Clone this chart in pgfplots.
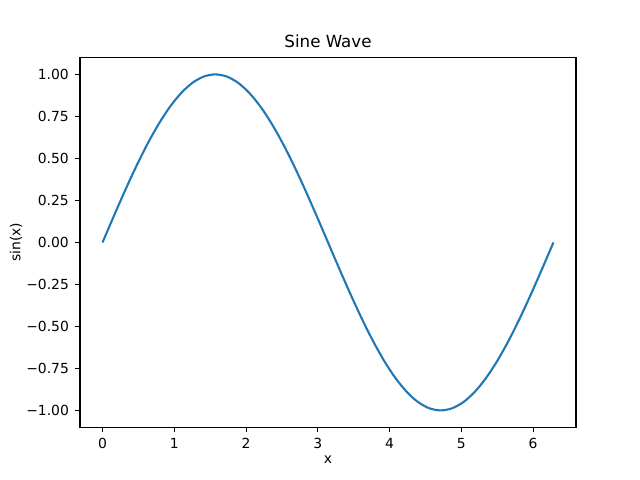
\documentclass[border=0pt]{standalone}
\usepackage{fontspec}
\setmainfont{DejaVu Sans}
\usepackage{pgfplots}
\pgfplotsset{compat=1.18}
\definecolor{tabblue}{HTML}{1F77B4}
\begin{document}
\begin{tikzpicture}
\begin{axis}[
  name=ax,
  scale only axis,
  width=357.12pt, height=266.11pt,
  xmin=-0.31416, xmax=6.59734,
  ymin=-1.1, ymax=1.1,
  axis line style={line width=0.8pt},
  tick style={line width=0.8pt, black},
  major tick length=3.5pt,
  tick align=outside,
  xtick pos=bottom, ytick pos=left,
  xtick={0,1,2,3,4,5,6},
  ytick={-1,-0.75,-0.5,-0.25,0,0.25,0.5,0.75,1},
  yticklabels={−1.00,−0.75,−0.50,−0.25,0.00,0.25,0.50,0.75,1.00},
  /pgf/number format/assume math mode=true,
  ticklabel style={font=\fontsize{10}{12}\selectfont},
  xticklabel style={yshift=-1pt},
  yticklabel style={xshift=-1pt},
  xlabel={x}, ylabel={sin(x)},
  label style={font=\fontsize{10}{12}\selectfont},
  xlabel style={yshift=2pt},
  ylabel style={yshift=-4pt},
  title={Sine Wave},
  title style={font=\fontsize{12}{14}\selectfont, yshift=-2.5pt},
]
\addplot[color=tabblue, line width=1.5pt, line join=round, smooth, tension=0.5] coordinates {
(0,0) (0.1571,0.1564) (0.3142,0.3090) (0.4712,0.4540) (0.6283,0.5878)
(0.7854,0.7071) (0.9425,0.8090) (1.0996,0.8910) (1.2566,0.9511) (1.4137,0.9877)
(1.5708,1) (1.7279,0.9877) (1.8850,0.9511) (2.0420,0.8910) (2.1991,0.8090)
(2.3562,0.7071) (2.5133,0.5878) (2.6704,0.4540) (2.8274,0.3090) (2.9845,0.1564)
(3.1416,0) (3.2987,-0.1564) (3.4558,-0.3090) (3.6128,-0.4540) (3.7699,-0.5878)
(3.9270,-0.7071) (4.0841,-0.8090) (4.2412,-0.8910) (4.3982,-0.9511) (4.5553,-0.9877)
(4.7124,-1) (4.8695,-0.9877) (5.0265,-0.9511) (5.1836,-0.8910) (5.3407,-0.8090)
(5.4978,-0.7071) (5.6549,-0.5878) (5.8119,-0.4540) (5.9690,-0.3090) (6.1261,-0.1564)
(6.2832,0)
};
\end{axis}
\path[use as bounding box] ([shift={(-57.6pt,-38.02pt)}]ax.south west) rectangle ([shift={(46.08pt,41.47pt)}]ax.north east);
\end{tikzpicture}
\end{document}
